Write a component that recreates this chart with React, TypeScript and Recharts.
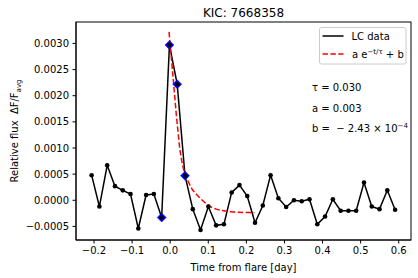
import React from 'react';
import { ComposedChart, Line, Scatter, XAxis, YAxis } from 'recharts';

// Light-curve data (time from flare in days, relative flux)
const lcTimes = [
  -0.2063, -0.1859, -0.1654, -0.145, -0.1246, -0.1042, -0.0837, -0.0633, -0.0429, -0.0224,
  -0.002, 0.0184, 0.0389, 0.0593, 0.0797, 0.1002, 0.1206, 0.141, 0.1614, 0.1819,
  0.2023, 0.2227, 0.2432, 0.2636, 0.284, 0.3045, 0.3249, 0.3453, 0.3657, 0.3862,
  0.4066, 0.427, 0.4475, 0.4679, 0.4883, 0.5088, 0.5292, 0.5496, 0.57, 0.5905,
];
const lcFlux = [
  0.00048, -0.00012, 0.00067, 0.00027, 0.00019, 0.00012, -0.00054, 0.0001, 0.00012, -0.00033,
  0.00297, 0.00222, 0.00047, -0.00017, -0.00057, -0.00012, -0.00048, -0.00046, 0.00015, 0.00029,
  0.00008, -0.00043, -0.0001, 0.00048, 0.00004, -0.00013, 0.0, -0.00002, 0.00002, -0.00046,
  -0.00031, 0.00002, -0.0002, -0.0002, -0.0002, 0.00034, -0.00012, -0.00017, 0.00019, -0.00018,
];

// Flare points (blue diamonds)
const flareTimes = [-0.0224, -0.002, 0.0184, 0.0389];
const flareFlux = [-0.00033, 0.00297, 0.00222, 0.00047];

// Fitted decay curve
const fitTimes = [
  -0.003, 0.004, 0.01, 0.015, 0.02, 0.025, 0.03, 0.035, 0.041, 0.048,
  0.057, 0.068, 0.08, 0.094, 0.108, 0.121, 0.14, 0.16, 0.18, 0.2, 0.221,
];
const fitFlux = [
  0.00322, 0.00264, 0.00215, 0.00172, 0.00135, 0.001, 0.00077, 0.0006, 0.00047, 0.00035,
  0.00022, 0.00012, 0.00003, -0.00006, -0.00013, -0.00017, -0.0002, -0.00022, -0.000228, -0.000234, -0.000238,
];

const xTicks = [-0.2, -0.1, 0.0, 0.1, 0.2, 0.3, 0.4, 0.5, 0.6];
const yTicks = [-0.0005, 0.0, 0.0005, 0.001, 0.0015, 0.002, 0.0025, 0.003];

const lcData = lcTimes.map((t, i) => ({ t, v: lcFlux[i] }));
const flareData = flareTimes.map((t, i) => ({ t, v: flareFlux[i] }));
const fitData = fitTimes.map((t, i) => ({ t, v: fitFlux[i] }));

const FONT = '"DejaVu Sans", sans-serif';
const minus = (s: string) => s.replace('-', '\u2212');
const fmtX = (v: number) => minus(v.toFixed(1));
const fmtY = (v: number) => minus(v.toFixed(4));

const Diamond = (props: any) => {
  const { cx, cy } = props;
  if (cx == null || cy == null) return null;
  const r = 4.5;
  return <path d={`M${cx},${cy - r} L${cx + r},${cy} L${cx},${cy + r} L${cx - r},${cy} Z`} fill="#0000ff" stroke="#0000ff" strokeWidth={0.5} />;
};

export default function App() {
  return (
    <div style={{ position: 'absolute', left: 0, top: 0, width: 418, height: 278, background: '#fff' }}>
      <ComposedChart width={418} height={278} margin={{ top: 22, right: 7, bottom: 8, left: 0 }}>
        <XAxis
          type="number"
          dataKey="t"
          domain={[-0.2473, 0.6322]}
          ticks={xTicks}
          allowDataOverflow
          tickFormatter={fmtX}
          tickSize={3.5}
          tickMargin={3.5}
          height={30}
          stroke="#000"
          tick={{ fill: '#000', fontSize: 10, fontFamily: FONT }}
        />
        <YAxis
          type="number"
          dataKey="v"
          domain={[-0.00076, 0.00341]}
          ticks={yTicks}
          allowDataOverflow
          tickFormatter={fmtY}
          tickSize={3.5}
          tickMargin={3.5}
          width={76}
          stroke="#000"
          tick={{ fill: '#000', fontSize: 10, fontFamily: FONT }}
        />
        <Scatter data={flareData} dataKey="v" shape={Diamond} isAnimationActive={false} />
        <Line
          data={lcData}
          dataKey="v"
          type="linear"
          stroke="#000"
          strokeWidth={1.5}
          dot={{ r: 2.3, fill: '#000', stroke: '#000', strokeWidth: 0 }}
          activeDot={false}
          isAnimationActive={false}
        />
        <Line
          data={fitData}
          dataKey="v"
          type="monotone"
          stroke="#ff0000"
          strokeWidth={1.5}
          strokeDasharray="5.5 2.4"
          dot={false}
          activeDot={false}
          isAnimationActive={false}
        />
      </ComposedChart>
      <svg width={418} height={278} style={{ position: 'absolute', left: 0, top: 0, pointerEvents: 'none' }} fontFamily={FONT}>
        <rect x={76} y={22} width={335} height={218} fill="none" stroke="#000" strokeWidth={1} />
        <text x={243.5} y={17} textAnchor="middle" fontSize={12} fill="#000">KIC: 7668358</text>
        <text x={243.5} y={271} textAnchor="middle" fontSize={10} fill="#000">Time from flare [day]</text>
        <text transform="translate(18,131) rotate(-90)" textAnchor="middle" fontSize={10} fill="#000" style={{ whiteSpace: 'pre' }}>
          Relative flux  ΔF/F<tspan fontSize={7} dy={2.5}>avg</tspan>
        </text>
        {/* legend */}
        <rect x={319.5} y={27.5} width={86.5} height={36.5} rx={2} ry={2} fill="#fff" fillOpacity={0.8} stroke="#cccccc" strokeWidth={1} />
        <line x1={322.5} y1={36} x2={343.5} y2={36} stroke="#000" strokeWidth={1.5} />
        <text x={351.5} y={39.5} fontSize={10} fill="#000">LC data</text>
        <line x1={322.5} y1={54} x2={343.5} y2={54} stroke="#ff0000" strokeWidth={1.5} strokeDasharray="5.5 2.4" />
        <text x={352} y={57.5} fontSize={10} fill="#000" style={{ whiteSpace: 'pre' }}>
          a e<tspan fontSize={7} dy={-4}>−t/τ</tspan><tspan dy={4}> + b</tspan>
        </text>
        {/* annotations */}
        <text x={312} y={91} fontSize={10} fill="#000">τ = 0.030</text>
        <text x={312} y={112} fontSize={10} fill="#000">a = 0.003</text>
        <text x={312} y={132} fontSize={10} fill="#000" style={{ whiteSpace: 'pre' }}>
          b =  − 2.43 × 10<tspan fontSize={7} dy={-4}>−4</tspan>
        </text>
      </svg>
    </div>
  );
}
